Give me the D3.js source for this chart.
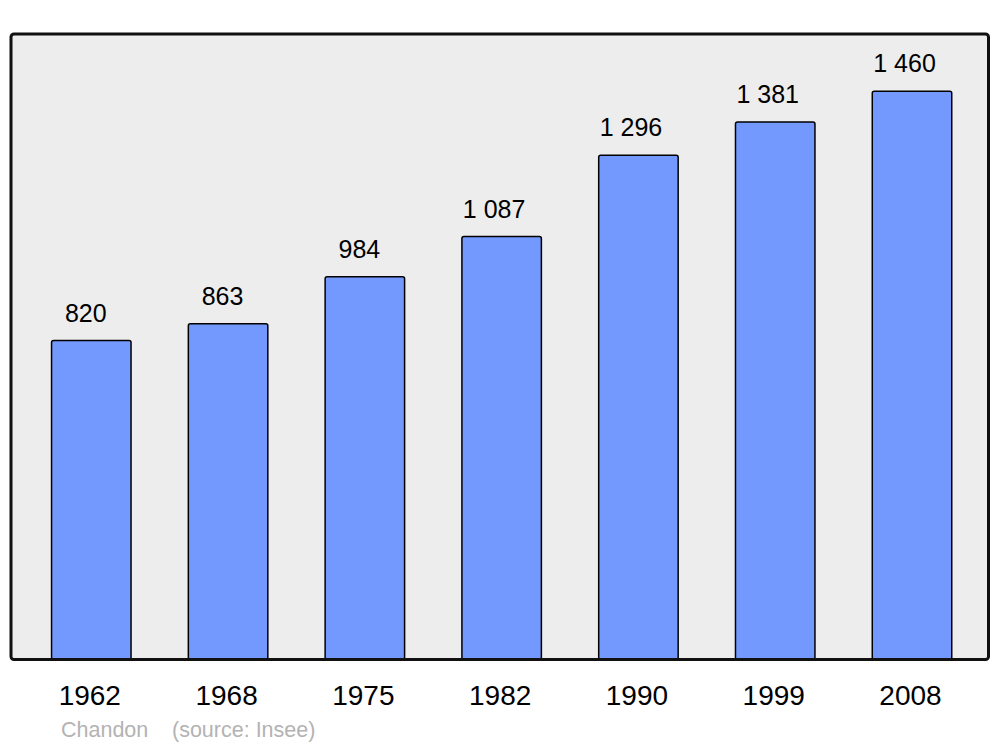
<!DOCTYPE html>
<html>
<head>
<meta charset="utf-8">
<script src="https://cdn.jsdelivr.net/npm/d3@7"></script>
<style>
  html, body { margin: 0; padding: 0; background: #ffffff; }
  svg { display: block; font-family: "Liberation Sans", Arial, sans-serif; }
</style>
</head>
<body>
<svg id="chart" width="1000" height="747"></svg>
<script>
const years = ["1962", "1968", "1975", "1982", "1990", "1999", "2008"];
const population = [820, 863, 984, 1087, 1296, 1381, 1460];
const valueLabels = ["820", "863", "984", "1 087", "1 296", "1 381", "1 460"];
const sourceLabels = ["Chandon", "(source: Insee)"];

const svg = d3.select("#chart");

const x = d3.scaleBand()
  .domain(years)
  .range([22.9, 980.4])
  .paddingInner(0.419)
  .paddingOuter(0.2095);

const y = d3.scaleLinear()
  .domain([0, 1607])
  .range([660, 34]);

// panel background
svg.append("rect")
  .attr("x", 11).attr("y", 34)
  .attr("width", 977.5).attr("height", 625.5)
  .attr("rx", 3).attr("ry", 3)
  .attr("fill", "#ededed");

const data = years.map((yr, i) => ({ year: yr, value: population[i], label: valueLabels[i] }));

// bars
svg.append("g").selectAll("rect")
  .data(data)
  .join("rect")
  .attr("x", d => x(d.year))
  .attr("y", d => y(d.value))
  .attr("width", x.bandwidth())
  .attr("height", d => y(0) - y(d.value) - 0.5)
  .attr("rx", 2).attr("ry", 2)
  .attr("fill", "#7399ff")
  .attr("stroke", "#000")
  .attr("stroke-width", 1.5);

// value labels
svg.append("g").selectAll("text")
  .data(data)
  .join("text")
  .attr("x", d => x(d.year) + x.bandwidth() / 2)
  .attr("y", d => y(d.value) - 19)
  .attr("dx", d => d.label.length > 3 ? -7.5 : -5.5)
  .attr("text-anchor", "middle")
  .attr("font-size", 25)
  .attr("fill", "#000")
  .text(d => d.label);

// panel border
svg.append("rect")
  .attr("x", 11).attr("y", 34)
  .attr("width", 977.5).attr("height", 625.5)
  .attr("rx", 3).attr("ry", 3)
  .attr("fill", "none")
  .attr("stroke", "#111")
  .attr("stroke-width", 3);

// x axis labels
const xAxis = d3.axisBottom(x).tickSize(0).tickPadding(0);
const gx = svg.append("g")
  .attr("transform", "translate(0,682)")
  .call(xAxis);
gx.select(".domain").remove();
gx.selectAll("text")
  .attr("font-size", 28)
  .attr("font-family", "'Liberation Sans', Arial, sans-serif")
  .attr("fill", "#000")
  .attr("dx", -1.5)
  .attr("dy", "0.82em");

// source
svg.append("text")
  .attr("x", 61).attr("y", 737)
  .attr("font-size", 21.5)
  .attr("fill", "#b3b3b3")
  .text(sourceLabels[0]);
svg.append("text")
  .attr("x", 172).attr("y", 737)
  .attr("font-size", 21.5)
  .attr("fill", "#b3b3b3")
  .text(sourceLabels[1]);
</script>
</body>
</html>
